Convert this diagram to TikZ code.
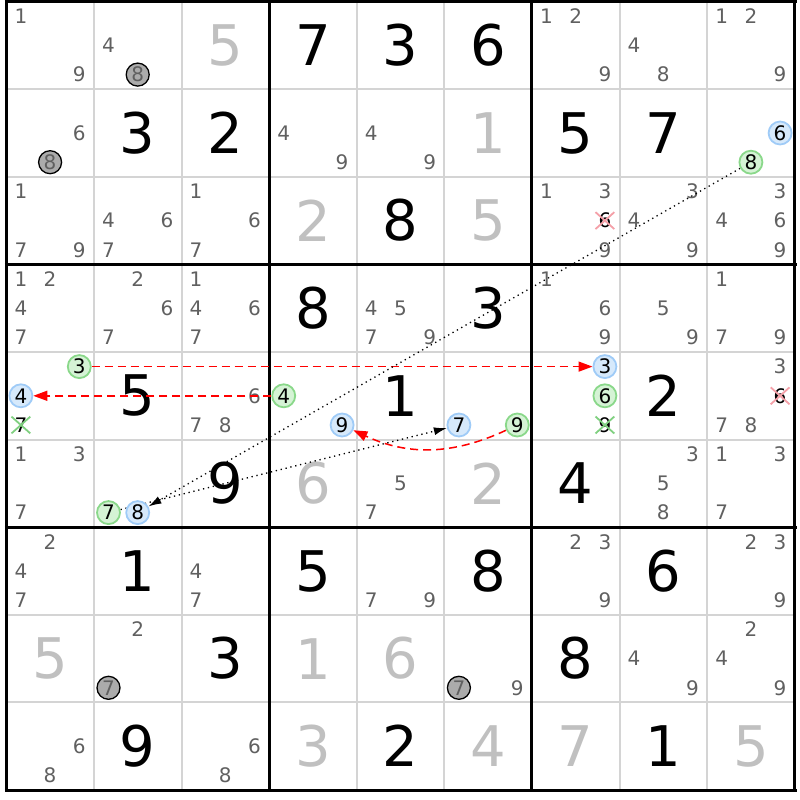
\documentclass[tikz,border=0pt]{standalone}
\usepackage{fontspec}
\setmainfont{DejaVu Sans}
\usetikzlibrary{arrows.meta,shapes.misc}
\definecolor{candgray}{HTML}{606060}
\definecolor{solvgray}{HTML}{C0C0C0}
\definecolor{linegray}{HTML}{D4D4D4}
\definecolor{ringblue}{HTML}{9FCBF7}
\definecolor{fillblue}{HTML}{D6E9FB}
\definecolor{ringgreen}{HTML}{8AD88A}
\definecolor{fillgreen}{HTML}{D5F3D5}
\definecolor{xred}{HTML}{F4A0A8}
\definecolor{xgreen}{HTML}{80D080}
\definecolor{linkred}{HTML}{FF0000}
\pgfdeclarelayer{links}
\pgfdeclarelayer{rings}
\pgfsetlayers{main,links,rings}
\begin{document}
\begin{tikzpicture}[x=1pt,y=-1pt,
    cellat/.style 2 args={at={({6.3+(#2-0.5)*87.6},{1.6+(#1-0.5)*87.6})}},
    slot/.style n args={3}{at={({6.3+(#2-1)*87.6+(mod(#3-1,3)+0.5)*29.2},{1.6+(#1-1)*87.6+(floor((#3-1)/3)+0.5)*29.2})}},
    given/.style={font=\fontsize{56}{56}\selectfont,inner sep=0},
    solved/.style={given,text=solvgray},
    cand/.style={font=\fontsize{20}{20}\selectfont,text=candgray,inner sep=0},
    ring/.style={circle,cand,text=black,line width=1.8pt,minimum size=23pt},
    bluering/.style={ring,draw=ringblue,fill=fillblue},
    greenring/.style={ring,draw=ringgreen,fill=fillgreen},
    gonering/.style={ring,text=candgray,draw=black,fill=black!33,line width=1.3pt},
    redx/.style={cross out,cand,text=black,draw=xred,line width=1.8pt,minimum width=17pt,minimum height=15pt},
    greenx/.style={redx,draw=xgreen},
    redlink/.style={linkred,line width=1.5pt,dash pattern=on 8pt off 5pt,-{Triangle[length=14pt,width=10pt]}},
    dotlink/.style={black,line width=1.3pt,dash pattern=on 1.3pt off 3.7pt,-{Latex[length=13pt,width=8pt]}}]

  \useasboundingbox (0,0) rectangle (800,800);

  % grid
  \foreach \i in {1,2,4,5,7,8} {
    \draw[linegray,line width=2pt] (6.3+\i*87.6,1.6) -- (6.3+\i*87.6,789.6);
    \draw[linegray,line width=2pt] (6.3,1.6+\i*87.6) -- (795.3,1.6+\i*87.6);
  }
  \foreach \i in {0,3,6,9} {
    \draw[black,line width=3pt] (6.3+\i*87.6,0.1) -- (6.3+\i*87.6,791.1);
    \draw[black,line width=3pt] (4.8,1.6+\i*87.6) -- (796.8,1.6+\i*87.6);
  }

  % digits
  \foreach \r/\c/\v in {1/4/7,1/5/3,1/6/6,2/2/3,2/3/2,2/7/5,2/8/7,3/5/8,4/4/8,4/6/3,
      5/2/5,5/5/1,5/8/2,6/3/9,6/7/4,7/2/1,7/4/5,7/6/8,7/8/6,8/3/3,8/7/8,9/2/9,9/5/2,9/8/1}
    \node[given,cellat={\r}{\c}] {\v};
  \foreach \r/\c/\v in {1/3/5,2/6/1,3/4/2,3/6/5,6/4/6,6/6/2,8/1/5,8/4/1,8/5/6,9/4/3,
      9/6/4,9/7/7,9/9/5}
    \node[solved,cellat={\r}{\c}] {\v};

  % candidates
  \foreach \r/\c/\ds in {1/1/{1,9},1/2/{4},1/7/{1,2,9},1/8/{4,8},1/9/{1,2,9},
      2/1/{6},2/4/{4,9},2/5/{4,9},
      3/1/{1,7,9},3/2/{4,6,7},3/3/{1,6,7},3/7/{1,3,9},3/8/{3,4,9},3/9/{3,4,6,9},
      4/1/{1,2,4,7},4/2/{2,6,7},4/3/{1,4,6,7},4/5/{4,5,7,9},4/7/{1,6,9},4/8/{5,9},4/9/{1,7,9},
      5/3/{6,7,8},5/9/{3,7,8},
      6/1/{1,3,7},6/5/{5,7},6/8/{3,5,8},6/9/{1,3,7},
      7/1/{2,4,7},7/3/{4,7},7/5/{7,9},7/7/{2,3,9},7/9/{2,3,9},
      8/2/{2},8/6/{9},8/8/{4,9},8/9/{2,4,9},
      9/1/{6,8},9/3/{6,8}}
    \foreach \d in \ds
      \node[cand,slot={\r}{\c}{\d}] {\d};

  \node[redx,slot={3}{7}{6}] (x376) {6};
  \node[redx,slot={5}{9}{6}] (x596) {6};
  \node[greenx,slot={5}{1}{7}] (x517) {7};
  \node[greenx,slot={5}{7}{9}] (x579) {9};

  \begin{pgfonlayer}{rings}
    \node[gonering,slot={1}{2}{8}] (o128) {8};
    \node[gonering,slot={2}{1}{8}] (o218) {8};
    \node[gonering,slot={8}{2}{7}] (o827) {7};
    \node[gonering,slot={8}{6}{7}] (o867) {7};
    \node[bluering,slot={2}{9}{6}] (b296) {6};
    \node[greenring,slot={2}{9}{8}] (g298) {8};
    \node[greenring,slot={5}{1}{3}] (g513) {3};
    \node[bluering,slot={5}{1}{4}] (b514) {4};
    \node[greenring,slot={5}{4}{4}] (g544) {4};
    \node[bluering,slot={5}{4}{9}] (b549) {9};
    \node[bluering,slot={5}{6}{7}] (b567) {7};
    \node[greenring,slot={5}{6}{9}] (g569) {9};
    \node[bluering,slot={5}{7}{3}] (b573) {3};
    \node[greenring,slot={5}{7}{6}] (g576) {6};
    \node[greenring,slot={6}{2}{7}] (g627) {7};
    \node[bluering,slot={6}{2}{8}] (b628) {8};
  \end{pgfonlayer}

  \begin{pgfonlayer}{links}
    \draw[redlink] (g513) -- (b573);
    \draw[redlink] (g544) -- (b514);
    \draw[redlink] (g569) to[bend left=25] (b549);
    \draw[dotlink] (g627) -- (b567);
    \draw[dotlink] (g298) -- (b628);
  \end{pgfonlayer}
\end{tikzpicture}
\end{document}
